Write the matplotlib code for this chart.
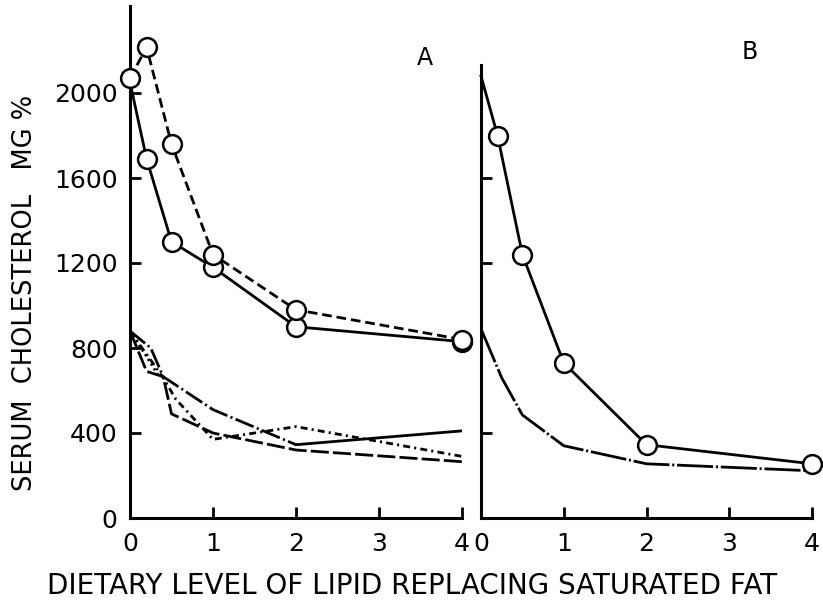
import numpy as np
import matplotlib.pyplot as plt

plt.rcParams['font.family'] = 'DejaVu Sans'
plt.rcParams['lines.scale_dashes'] = False

# panel A, upper curves (open circles)
a_x_solid = [0, 0.2, 0.5, 1, 2, 4]
a_y_solid = [2050, 1690, 1300, 1180, 900, 830]
a_x_dash = [0, 0.2, 0.5, 1, 2, 4]
a_y_dash = [2070, 2215, 1760, 1240, 980, 840]

# panel A, lower curves (no markers)
a_x_dashdot = [0, 0.25, 0.4, 1, 2, 4]
a_y_dashdot = [880, 800, 665, 510, 345, 410]
a_x_short = [0, 0.2, 0.4, 0.55, 1, 2, 4]
a_y_short = [880, 770, 660, 560, 370, 430, 290]
a_x_long = [0, 0.2, 0.4, 0.5, 1, 2, 4]
a_y_long = [880, 690, 665, 490, 400, 320, 265]
a_x_dot = [0, 0.2, 0.35]
a_y_dot = [880, 760, 665]

# panel B
b_x_upper = [0, 0.2, 0.5, 1, 2, 4]
b_y_upper = [2080, 1800, 1240, 730, 345, 255]
b_x_lower = [0, 0.25, 0.5, 1, 2, 4]
b_y_lower = [890, 660, 485, 340, 255, 222]

x_ticks = [0, 1, 2, 3, 4]
a_y_ticks = [0, 400, 800, 1200, 1600, 2000]
b_y_ticks = [400, 1200, 1600]

W, H = 823, 608
fig = plt.figure(figsize=(W / 100, H / 100), dpi=100)
axA = fig.add_axes([130 / W, 90 / H, (462 - 130) / W, 512 / H])
axB = fig.add_axes([481 / W, 90 / H, (812 - 481) / W, 512 / H])

lw = 2.0
circ = dict(marker='o', markersize=13.5, markerfacecolor='white',
            markeredgecolor='black', markeredgewidth=1.8)

# A: upper curves
axA.plot(a_x_solid, a_y_solid, color='black', lw=lw, markevery=[1, 2, 3, 4, 5],
         clip_on=False, zorder=3, **circ)
axA.plot(a_x_dash, a_y_dash, color='black', lw=lw, dashes=(7, 3.5),
         clip_on=False, zorder=3, **circ)

# A: lower curves
axA.plot(a_x_dashdot[:5], a_y_dashdot[:5], color='black', lw=lw,
         dashes=(14, 2.5, 1.5, 2.5))
axA.plot(a_x_dashdot[4:], a_y_dashdot[4:], color='black', lw=lw)
axA.plot(a_x_short, a_y_short, color='black', lw=lw, dashes=(5, 3, 1.5, 3))
axA.plot(a_x_long, a_y_long, color='black', lw=lw, dashes=(13, 3))
axA.plot(a_x_dot, a_y_dot, color='black', lw=lw, dashes=(1.5, 2.5))

# B
axB.plot(b_x_upper, b_y_upper, color='black', lw=lw,
         markevery=[1, 2, 3, 4, 5], clip_on=False, zorder=3, **circ)
axB.plot(b_x_lower, b_y_lower, color='black', lw=lw, dashes=(26, 2, 1.5, 2))

ymax = 512 / 0.2125
for ax in (axA, axB):
    ax.set_xlim(0, 4)
    ax.set_ylim(0, ymax)
    ax.spines['top'].set_visible(False)
    ax.spines['right'].set_visible(False)
    ax.spines['left'].set_linewidth(2.2)
    ax.spines['bottom'].set_linewidth(2.2)
    ax.set_xticks(x_ticks)
    ax.set_xticklabels([str(t) for t in x_ticks], fontsize=18)
    ax.tick_params(direction='in', length=8, width=2, pad=10)
    ax.set_facecolor('none')

axA.set_yticks(a_y_ticks)
axA.set_yticklabels([str(t) for t in a_y_ticks], fontsize=18)
axA.tick_params(axis='y', pad=9)

axB.spines['left'].set_bounds(0, 2130)
axB.set_yticks(b_y_ticks)
axB.set_yticklabels([])

fig.text(425 / W, 1 - 58 / H, 'A', fontsize=17, ha='center', va='center')
fig.text(750 / W, 1 - 52 / H, 'B', fontsize=17, ha='center', va='center')

fig.text(25 / W, 1 - 293 / H, 'SERUM  CHOLESTEROL   MG %', rotation=90,
         fontsize=18.5, ha='center', va='center')
fig.text(412 / W, 1 - 586 / H, 'DIETARY LEVEL OF LIPID REPLACING SATURATED FAT',
         fontsize=20, ha='center', va='center')

fig.savefig('out.png', dpi=100)
